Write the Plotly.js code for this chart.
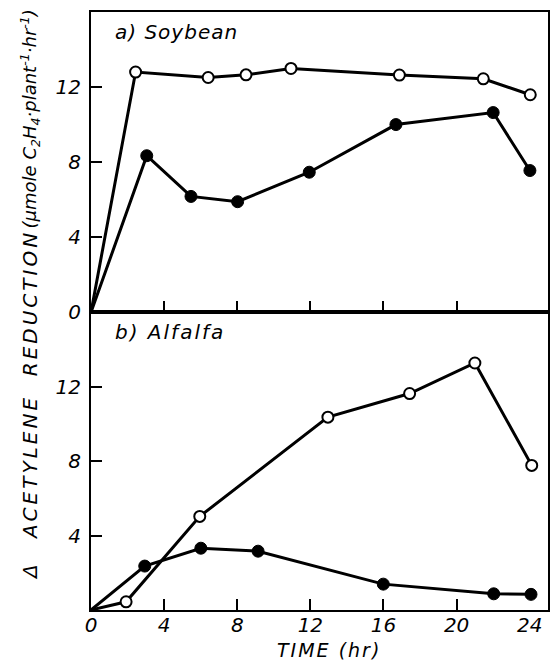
<!DOCTYPE html>
<html>
<head>
<meta charset="utf-8">
<script src="https://cdn.plot.ly/plotly-3.0.1.min.js"></script>
<style>html,body{margin:0;padding:0;background:#fff;}</style>
</head>
<body>
<div id="chart" style="width:551px;height:664px;"></div>
<script>
// Soybean (panel a)
const soyOpenX = [0, 2.44, 6.41, 8.48, 10.94, 16.87, 21.46, 24.03];
const soyOpenY = [0, 12.80, 12.51, 12.65, 12.99, 12.64, 12.44, 11.59];
const soyFillX = [0, 3.05, 5.47, 8.02, 11.94, 16.68, 22.0, 24.01];
const soyFillY = [0, 8.34, 6.17, 5.89, 7.46, 10.0, 10.64, 7.55];
// Alfalfa (panel b)
const alfOpenX = [0, 1.92, 5.95, 12.96, 17.43, 21.0, 24.11];
const alfOpenY = [0, 0.44, 5.03, 10.36, 11.63, 13.27, 7.77];
const alfFillX = [0, 2.94, 6.01, 9.14, 15.99, 22.03, 24.07];
const alfFillY = [0, 2.36, 3.32, 3.16, 1.39, 0.87, 0.84];
// ticks
const xTickVals = [0, 4, 8, 12, 16, 20, 24];
const xTickMarks = [4, 8, 12, 16, 20];
const yTopTicks = [0, 4, 8, 12];
const yBotTicks = [4, 8, 12];

const FONT = {family: 'DejaVu Sans', size: 20, color: '#000', style: 'italic'};

function series(x, y, filled, xa, ya) {
  const sz = filled ? 12 : 11;
  return {
    x: x, y: y, xaxis: xa, yaxis: ya, type: 'scatter', mode: 'lines+markers',
    line: {color: '#000', width: 3},
    marker: {
      symbol: 'circle', opacity: 1,
      size: x.map((v, i) => i === 0 ? 0 : sz),   // origin has no marker
      color: filled ? '#000' : '#fff',
      line: {color: '#000', width: filled ? 1 : 2}
    },
    hoverinfo: 'skip', showlegend: false, cliponaxis: false
  };
}

const data = [
  series(soyOpenX, soyOpenY, false, 'x2', 'y2'),
  series(soyFillX, soyFillY, true, 'x2', 'y2'),
  series(alfFillX, alfFillY, true, 'x', 'y'),
  series(alfOpenX, alfOpenY, false, 'x', 'y'),
  // invisible trace to activate the tick-label axis
  {x: [0], y: [0], xaxis: 'x3', yaxis: 'y', mode: 'markers', marker: {size: 1, opacity: 0}, hoverinfo: 'skip', showlegend: false}
];

const baseX = {
  range: [0, 25], showgrid: false, zeroline: false,
  showline: true, linecolor: '#000', linewidth: 2, mirror: true,
  ticks: 'inside', ticklen: 11, tickwidth: 2, tickcolor: '#000',
  tickmode: 'array', tickvals: xTickMarks, showticklabels: false
};
const baseY = {
  range: [0, 16], showgrid: false, zeroline: false,
  showline: true, linecolor: '#000', linewidth: 2, mirror: true,
  ticks: 'inside', ticklen: 11, tickwidth: 2, tickcolor: '#000',
  tickmode: 'array', tickfont: FONT, ticklabelstandoff: 4
};

const layout = {
  width: 551, height: 664,
  margin: {l: 91, r: 3, t: 12, b: 54},
  paper_bgcolor: '#fff', plot_bgcolor: 'rgba(0,0,0,0)',
  font: FONT,
  xaxis: Object.assign({}, baseX, {anchor: 'y', domain: [0, 1]}),
  xaxis2: Object.assign({}, baseX, {anchor: 'y2', domain: [0, 1]}),
  xaxis3: {
    overlaying: 'x', anchor: 'y', side: 'bottom', range: [0, 25],
    showgrid: false, zeroline: false, showline: false, ticks: '',
    tickmode: 'array', tickvals: xTickVals, tickfont: FONT, ticklabelstandoff: 1
  },
  yaxis: Object.assign({}, baseY, {anchor: 'x', domain: [0, 0.498], tickvals: yBotTicks}),
  yaxis2: Object.assign({}, baseY, {anchor: 'x2', domain: [0.498, 1], tickvals: yTopTicks}),
  annotations: [
    {xref: 'paper', yref: 'paper', x: 0.048, y: 0.9666, xanchor: 'left', yanchor: 'middle',
     text: '<span style="letter-spacing:1px">a) Soybean</span>', showarrow: false, font: FONT},
    {xref: 'paper', yref: 'paper', x: 0.048, y: 0.4649, xanchor: 'left', yanchor: 'middle',
     text: '<span style="letter-spacing:2px">b) Alfalfa</span>', showarrow: false, font: FONT},
    {xref: 'paper', yref: 'paper', x: 0.521, y: -0.0675, xanchor: 'center', yanchor: 'middle',
     text: '<span style="letter-spacing:2px">TIME (hr)</span>', showarrow: false,
     font: Object.assign({}, FONT, {size: 19})},
    {xref: 'paper', yref: 'paper', x: -0.1335, y: 0.0635, xanchor: 'center', yanchor: 'middle',
     text: 'Δ', textangle: -90, showarrow: false, font: FONT},
    {xref: 'paper', yref: 'paper', x: -0.1335, y: 0.239, xanchor: 'center', yanchor: 'middle',
     text: '<span style="letter-spacing:3px">ACETYLENE</span>', textangle: -90, showarrow: false, font: FONT},
    {xref: 'paper', yref: 'paper', x: -0.1335, y: 0.513, xanchor: 'center', yanchor: 'middle',
     text: '<span style="letter-spacing:3px">REDUCTION</span>', textangle: -90, showarrow: false, font: FONT},
    {xref: 'paper', yref: 'paper', x: -0.1335, y: 0.822, xanchor: 'center', yanchor: 'middle',
     text: '(μmole C<sub>2</sub>H<sub>4</sub>·plant<sup>-1</sup>·hr<sup>-1</sup>)', textangle: -90, showarrow: false,
     font: Object.assign({}, FONT, {size: 18})}
  ]
};

Plotly.newPlot('chart', data, layout, {staticPlot: true, displayModeBar: false});
</script>
</body>
</html>
